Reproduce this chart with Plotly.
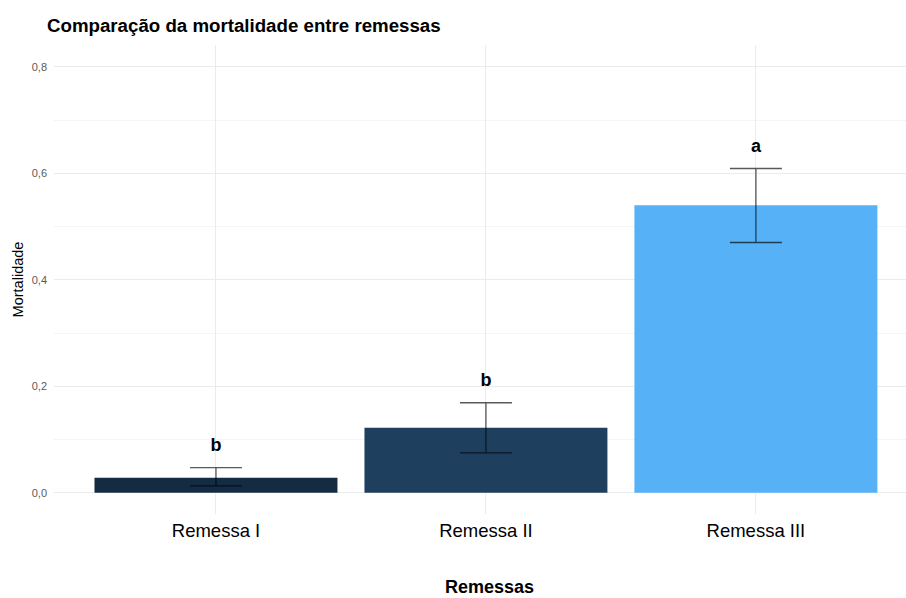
import plotly.graph_objects as go

# Mortality per shipment (mean with lower/upper confidence limits)
remessas = ["Remessa I", "Remessa II", "Remessa III"]
mortalidade = [0.028, 0.122, 0.540]
limite_inferior = [0.013, 0.075, 0.470]
limite_superior = [0.047, 0.169, 0.609]
letras = ["b", "b", "a"]
cores = ["#132B43", "#1F3F5E", "#56B1F7"]

label_offset = 0.04

fig = go.Figure()
fig.add_trace(go.Bar(
    x=remessas,
    y=mortalidade,
    width=0.9,
    marker=dict(color=cores, line=dict(width=0)),
    error_y=dict(
        type="data",
        symmetric=False,
        array=[u - m for u, m in zip(limite_superior, mortalidade)],
        arrayminus=[m - l for m, l in zip(mortalidade, limite_inferior)],
        color="rgba(0,0,0,0.65)",
        thickness=1.3,
        width=26,
    ),
    hoverinfo="skip",
    showlegend=False,
))
fig.add_trace(go.Scatter(
    x=remessas,
    y=[u + label_offset for u in limite_superior],
    mode="text",
    text=letras,
    textfont=dict(family="Liberation Sans, Arial, sans-serif", size=18, color="black"),
    texttemplate="<b>%{text}</b>",
    textposition="middle center",
    hoverinfo="skip",
    showlegend=False,
))

# plot area: 54..906 px horizontally, 45..514 px vertically
fig.update_layout(
    width=906,
    height=598,
    margin=dict(l=54, r=0, t=45, b=84),
    paper_bgcolor="white",
    plot_bgcolor="white",
    separators=",.",
    font=dict(family="Liberation Sans, Arial, sans-serif", color="black"),
    title=dict(
        text="<b>Comparação da mortalidade entre remessas</b>",
        x=47 / 906, xanchor="left", xref="container",
        y=1 - 25 / 598, yanchor="middle", yref="container",
        font=dict(size=18.7, color="black"),
    ),
    bargap=0.1,
    annotations=[dict(
        text="<b>Remessas</b>",
        xref="paper", yref="paper",
        x=(490 - 54) / 852, y=-(587 - 514) / 469,
        xanchor="center", yanchor="middle",
        showarrow=False,
        font=dict(size=18, color="black"),
    )],
)
fig.update_xaxes(
    range=[-0.6, 2.556],
    showgrid=True,
    gridcolor="#ebebeb",
    gridwidth=1,
    zeroline=False,
    showline=False,
    ticks="",
    ticklabelstandoff=3,
    tickfont=dict(size=18.5, color="black"),
)
fig.update_yaxes(
    range=[-0.04, 0.841],
    tickvals=[0, 0.2, 0.4, 0.6, 0.8],
    tickformat=".1f",
    showgrid=True,
    gridcolor="#ebebeb",
    gridwidth=1,
    minor=dict(tickvals=[0.1, 0.3, 0.5, 0.7], showgrid=True, gridcolor="#f5f5f5", gridwidth=1, ticks=""),
    zeroline=False,
    showline=False,
    ticks="",
    ticklabelstandoff=6,
    tickfont=dict(size=11, color="#5a5a5a"),
    title=dict(text="Mortalidade", font=dict(size=14.5, color="black"), standoff=4),
)

fig.write_html("out.html")
